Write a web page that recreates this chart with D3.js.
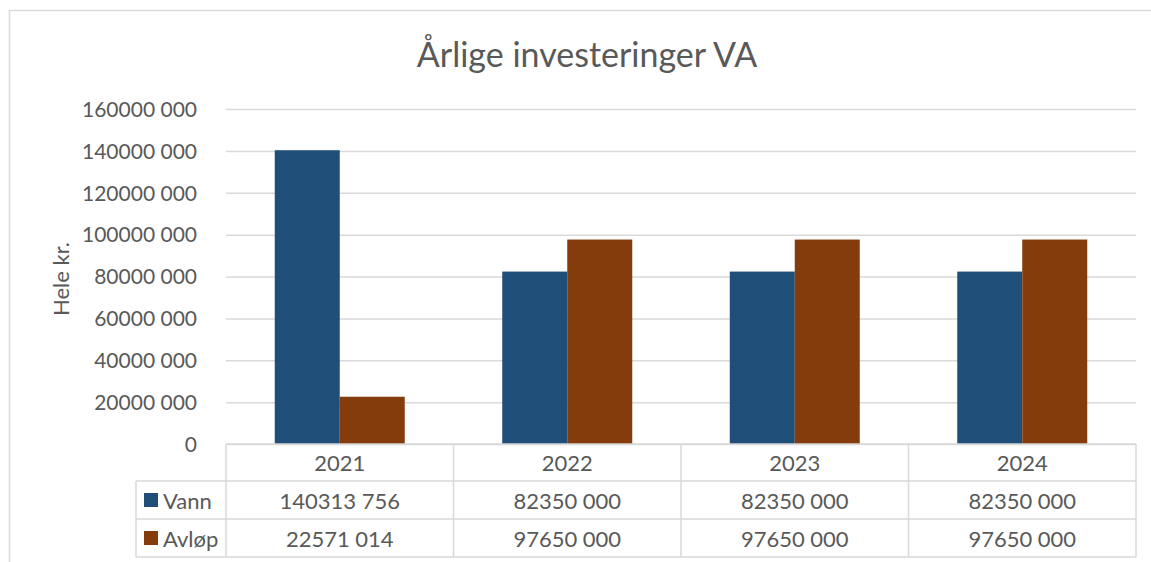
<!DOCTYPE html>
<html><head><meta charset="utf-8">
<script src="https://cdn.jsdelivr.net/npm/d3@7"></script>
<style>body{margin:0;background:#fff}svg{display:block}text{font-family:Lato,"Open Sans",sans-serif;fill:#595959}</style>
</head><body><svg id="c" width="1151" height="562"></svg>
<script>
const categories = ["2021","2022","2023","2024"];
const seriesNames = ["Vann","Avløp"];
const vann = [140313756, 82350000, 82350000, 82350000];
const avlop = [22571014, 97650000, 97650000, 97650000];
const vannLabels = ["140313 756","82350 000","82350 000","82350 000"];
const avlopLabels = ["22571 014","97650 000","97650 000","97650 000"];
const yTicks = [0,20000000,40000000,60000000,80000000,100000000,120000000,140000000,160000000];
const yTickLabels = ["0","20000 000","40000 000","60000 000","80000 000","100000 000","120000 000","140000 000","160000 000"];
const colors = ["#1F4E79","#843C0C"];

const svg = d3.select("#c");
const grid = "#d9d9d9";
// outer border
svg.append("path").attr("d","M9.5,562 V10.5 H1151").attr("fill","none").attr("stroke",grid).attr("stroke-width",1.5);

const L=226, R=1136, T=109, B=444;
const x = d3.scaleBand().domain(categories).range([L,R]).paddingInner(0).paddingOuter(0);
const xs = d3.scaleBand().domain(seriesNames).range([0,x.bandwidth()]).paddingInner(0).paddingOuter(0.75);
const y = d3.scaleLinear().domain([0,160000000]).range([B,T]);

svg.append("text").attr("x",587).attr("y",67).attr("text-anchor","middle").style("font-size","34px").text("Årlige investeringer VA");

const ga = svg.append("g").attr("transform",`translate(${L},0)`)
  .call(d3.axisLeft(y).tickValues(yTicks).tickSize(-(R-L)).tickFormat((d,i)=>yTickLabels[i]).tickPadding(29));
ga.select(".domain").remove();
ga.selectAll(".tick line").attr("stroke",grid).attr("stroke-width",1.5);
ga.selectAll(".tick text").style("font-size","21px").attr("fill","#595959").attr("font-family","Lato").attr("dy","0.35em");

svg.append("text").attr("transform",`translate(69,279) rotate(-90)`).attr("text-anchor","middle").style("font-size","22px").text("Hele kr.");

const data = [vann, avlop];
seriesNames.forEach((s,si)=>{
  svg.append("g").selectAll("rect").data(categories).join("rect")
    .attr("x",c=>x(c)+xs(s)).attr("width",xs.bandwidth())
    .attr("y",(c,i)=>y(data[si][i])).attr("height",(c,i)=>B-y(data[si][i]))
    .attr("fill",colors[si]);
});

// data table
const rows = [B, 481, 519, 557];
const labelL = 136;
const tg = svg.append("g").attr("stroke",grid).attr("stroke-width",1.5).attr("fill","none");
tg.append("line").attr("x1",L).attr("x2",R).attr("y1",rows[0]).attr("y2",rows[0]);
[1,2,3].forEach(r=>tg.append("line").attr("x1",labelL).attr("x2",R).attr("y1",rows[r]).attr("y2",rows[r]));
tg.append("line").attr("x1",labelL).attr("x2",labelL).attr("y1",rows[1]).attr("y2",rows[3]);
categories.concat(["end"]).forEach((c,i)=>{
  const xx = i<categories.length ? x(c) : R;
  tg.append("line").attr("x1",xx).attr("x2",xx).attr("y1",rows[0]).attr("y2",rows[3]);
});
const cellText = (cx, r, t)=>svg.append("text").attr("x",cx).attr("y",(rows[r]+rows[r+1])/2+1).attr("dy","0.35em")
  .attr("text-anchor","middle").style("font-size","22px").text(t);
categories.forEach((c,i)=>{
  const cx = x(c)+x.bandwidth()/2;
  cellText(cx,0,c);
  cellText(cx,1,vannLabels[i]);
  cellText(cx,2,avlopLabels[i]);
});
seriesNames.forEach((s,si)=>{
  const cy=(rows[si+1]+rows[si+2])/2;
  svg.append("rect").attr("x",144).attr("y",cy-7).attr("width",14).attr("height",14).attr("fill",colors[si]);
  svg.append("text").attr("x",163).attr("y",cy+1).attr("dy","0.35em").style("font-size","22px").text(s);
});
</script></body></html>
